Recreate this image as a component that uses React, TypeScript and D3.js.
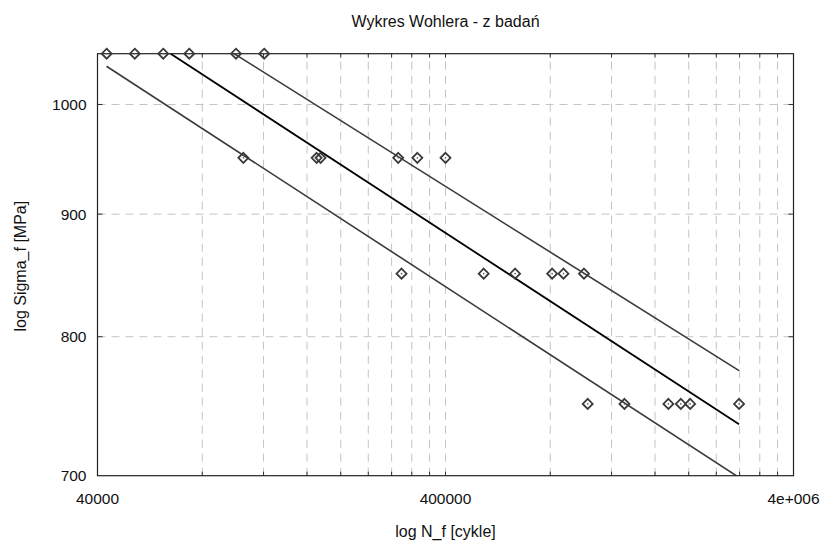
import * as d3 from "d3";

// measured points (cycles to failure, stress amplitude)
const cycles = [
  42500, 51200, 61800, 73400, 100000, 120500,
  105000, 170500, 175000, 292500, 332000, 400000,
  299000, 515000, 634000, 810000, 873000, 1000000,
  1025000, 1307000, 1748000, 1898000, 2019000, 2790000,
];
const stress = [
  1050, 1050, 1050, 1050, 1050, 1050,
  950, 950, 950, 950, 950, 950,
  850, 850, 850, 850, 850, 850,
  750, 750, 750, 750, 750, 750,
];

// regression line and its bounds, at both ends of the cycle range
const fitCycles = [42450, 2790000];
const fitMean = [1093, 735.5];
const fitUpper = [1134, 774.4];
const fitLower = [1037.4, 698.8];

const xTickValues = [40000, 400000, 4000000];
const xTickLabels = ["40000", "400000", "4e+006"];
const yTickValues = [700, 800, 900, 1000];

const width = 823;
const height = 542;
const margin = { left: 97.5, right: 29.5, top: 53.7, bottom: 66.3 };
const font = "Arial, 'Liberation Sans', sans-serif";

export default function App() {
  const x = d3
    .scaleLog()
    .domain([40000, 4000000])
    .range([margin.left, width - margin.right]);
  const y = d3
    .scaleLog()
    .domain([700, 1050])
    .range([height - margin.bottom, margin.top]);

  const [x0, x1] = x.range();
  const [y0, y1] = y.range();

  // log grid: multiples of each decade start
  const xGrid = xTickValues
    .slice(0, -1)
    .flatMap((v) => d3.range(1, 10).map((k) => v * k))
    .filter((v) => v > 40000 && v < 4000000);
  const yGrid = yTickValues.filter((v) => v > 700);

  const line = d3
    .line<number>()
    .x((_, i) => x(fitCycles[i]))
    .y((d) => y(d));

  const points = cycles.map((c, i) => ({ c, s: stress[i] }));

  return (
    <svg
      width={width}
      height={height}
      style={{ position: "absolute", left: 0, top: 0, background: "#fff" }}
      fontFamily={font}
    >
      <defs>
        <clipPath id="plot-clip">
          <rect x={x0} y={y1} width={x1 - x0} height={y0 - y1} />
        </clipPath>
      </defs>

      <text x={(x0 + x1) / 2} y={26.5} textAnchor="middle" fontSize="16" fill="#111">
        Wykres Wohlera - z badań
      </text>

      {/* grid */}
      <g stroke="#c4c4c4" strokeWidth="1" strokeDasharray="8,6">
        {xGrid.map((v) => (
          <line key={"gx" + v} x1={x(v)} x2={x(v)} y1={y0} y2={y1} />
        ))}
        {yGrid.map((v) => (
          <line key={"gy" + v} x1={x0} x2={x1} y1={y(v)} y2={y(v)} />
        ))}
      </g>

      {/* tick marks */}
      <g stroke="#333" strokeWidth="1">
        {xGrid.map((v) => (
          <g key={"tx" + v}>
            <line x1={x(v)} x2={x(v)} y1={y0} y2={y0 - 4} />
            <line x1={x(v)} x2={x(v)} y1={y1} y2={y1 + 4} />
          </g>
        ))}
        {yGrid.map((v) => (
          <g key={"ty" + v}>
            <line x1={x0} x2={x0 + 5} y1={y(v)} y2={y(v)} />
            <line x1={x1} x2={x1 - 5} y1={y(v)} y2={y(v)} />
          </g>
        ))}
      </g>

      {/* fitted lines */}
      <g clipPath="url(#plot-clip)" fill="none">
        <path d={line(fitUpper) ?? ""} stroke="#3a3a3a" strokeWidth="1.6" />
        <path d={line(fitLower) ?? ""} stroke="#3a3a3a" strokeWidth="1.6" />
        <path d={line(fitMean) ?? ""} stroke="#000" strokeWidth="1.8" />
      </g>

      {/* axes box */}
      <rect
        x={x0}
        y={y1}
        width={x1 - x0}
        height={y0 - y1}
        fill="none"
        stroke="#222"
        strokeWidth="1.2"
      />

      {/* measured points */}
      <g>
        {points.map((p, i) => {
          const px = x(p.c);
          const py = y(p.s);
          const r = 5;
          return (
            <g key={i}>
              <path
                d={`M${px},${py - r}L${px + r},${py}L${px},${py + r}L${px - r},${py}Z`}
                fill="none"
                stroke="#3a3a3a"
                strokeWidth="1.8"
              />
              <circle cx={px} cy={py} r={0.8} fill="#555" />
            </g>
          );
        })}
      </g>

      {/* tick labels */}
      <g fontSize="15.5" fill="#111">
        {xTickValues.map((v, i) => (
          <text key={"lx" + v} x={x(v)} y={y0 + 28} textAnchor="middle">
            {xTickLabels[i]}
          </text>
        ))}
        {yTickValues.map((v) => (
          <text
            key={"ly" + v}
            x={x0 - 11}
            y={y(v)}
            textAnchor="end"
            dominantBaseline="central"
          >
            {v}
          </text>
        ))}
      </g>

      <text
        x={(x0 + x1) / 2}
        y={537}
        textAnchor="middle"
        fontSize="16"
        fill="#111"
      >
        log N_f [cykle]
      </text>
      <text
        transform={`translate(25.5, ${(y0 + y1) / 2 + 1.5}) rotate(-90)`}
        textAnchor="middle"
        fontSize="16"
        fill="#111"
      >
        log Sigma_f [MPa]
      </text>
    </svg>
  );
}
